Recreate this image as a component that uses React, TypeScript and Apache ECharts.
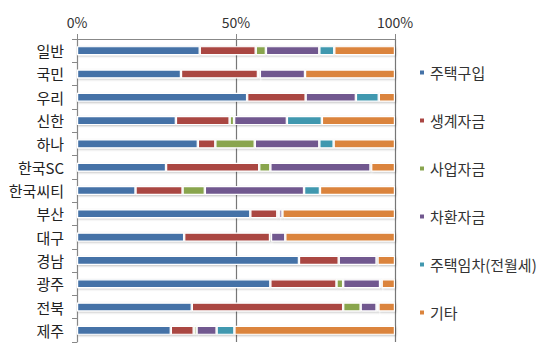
import React, { useEffect, useRef } from "react";
import * as echarts from "echarts";

const categories = ["일반", "국민", "우리", "신한", "하나", "한국SC", "한국씨티", "부산", "대구", "경남", "광주", "전북", "제주"];
const seriesNames = ["주택구입", "생계자금", "사업자금", "차환자금", "주택임차(전월세)", "기타"];
const housePurchase = [38.6, 32.7, 53.5, 31.1, 38.0, 28.0, 18.4, 54.5, 33.7, 69.8, 60.8, 36.1, 29.5];
const livingFunds = [17.6, 24.2, 18.4, 16.9, 5.5, 29.3, 14.8, 8.5, 27.0, 12.5, 20.8, 47.6, 7.2];
const businessFunds = [3.2, 0.6, 0, 1.4, 12.4, 3.5, 7.0, 0.6, 0.3, 0, 2.1, 5.5, 0.9];
const refinancing = [16.8, 14.2, 15.8, 16.6, 20.3, 31.5, 31.2, 1.0, 4.5, 11.9, 11.6, 5.0, 6.3];
const rentFunds = [4.7, 0, 7.2, 11.0, 4.5, 0.2, 5.0, 0, 0, 0.3, 0.5, 0.6, 5.6];
const others = [19.1, 28.3, 5.1, 23.0, 19.3, 7.5, 23.6, 35.4, 34.5, 5.5, 4.2, 5.2, 50.5];
const xTicks = { min: 0, max: 100, interval: 50 };
const colors = ["#4572A7", "#AA4643", "#89A54E", "#71588F", "#4198AF", "#DB843D"];

const dataSets = [housePurchase, livingFunds, businessFunds, refinancing, rentFunds, others];
const FONT = "'Noto Sans CJK KR', 'Noto Sans', sans-serif";

export default function App() {
  const ref = useRef<HTMLDivElement>(null);
  useEffect(() => {
    if (!ref.current) return;
    const chart = echarts.init(ref.current, null, { renderer: "svg" });
    chart.setOption({
      animation: false,
      color: colors,
      textStyle: { fontFamily: FONT },
      grid: { left: 77, right: 145, top: 39, bottom: 8, containLabel: false },
      legend: {
        orient: "vertical",
        left: 413,
        top: 60,
        itemWidth: 6,
        itemHeight: 6,
        itemGap: 33,
        icon: "rect",
        textStyle: { fontSize: 15, color: "#333", fontFamily: FONT },
        data: seriesNames,
      },
      xAxis: {
        type: "value",
        position: "top",
        min: xTicks.min,
        max: xTicks.max,
        interval: xTicks.interval,
        axisLine: { show: true, lineStyle: { color: "#888", width: 1 } },
        axisTick: { show: true, length: 5, lineStyle: { color: "#888" } },
        axisLabel: { formatter: "{value}%", fontSize: 14, color: "#333", margin: 10 },
        splitLine: { show: true, lineStyle: { color: "#777", width: 1.2 } },
      },
      yAxis: {
        type: "category",
        inverse: true,
        data: categories,
        axisLine: { show: true, lineStyle: { color: "#888" } },
        axisTick: { show: true, length: 5, alignWithLabel: false, lineStyle: { color: "#888" } },
        axisLabel: { fontSize: 15, color: "#222", margin: 13 },
      },
      series: seriesNames.map((name, i) => ({
        name,
        type: "bar",
        stack: "total",
        barWidth: 9,
        data: dataSets[i],
        itemStyle: {
          borderColor: "#fff",
          borderWidth: 1.2,
          shadowBlur: 2,
          shadowColor: "rgba(0,0,0,0.25)",
          shadowOffsetX: 1,
          shadowOffsetY: 1,
        },
      })),
    });
    return () => chart.dispose();
  }, []);
  return <div ref={ref} style={{ width: 540, height: 350, position: "absolute", left: 0, top: 0 }} />;
}
